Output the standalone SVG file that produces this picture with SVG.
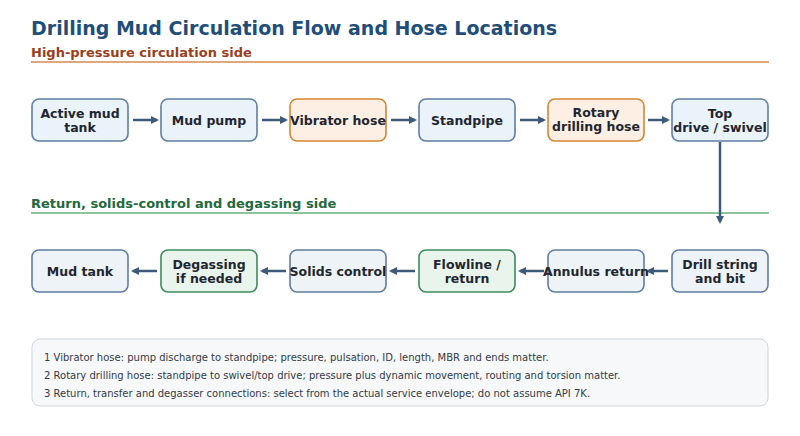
<svg xmlns="http://www.w3.org/2000/svg" width="800" height="436" viewBox="0 0 800 436">
<style>
text{font-family:"DejaVu Sans",sans-serif}
.n{stroke-width:1.6}
.b{fill:#eaf2fa;stroke:#5f7ea0}
.o{fill:#fdefe4;stroke:#d4862e}
.g{fill:#e8f4ec;stroke:#3e8a5c}
.bl{fill:#edf3f6;stroke:#5f7ea0}
.t{font-size:12.5px;font-weight:bold;fill:#1f2630;text-anchor:middle}
.c{stroke:#3d5a78;stroke-width:2.5;fill:none;marker-end:url(#a)}
.note{font-size:10px;fill:#333b45}
</style>
<defs><marker id="a" markerWidth="8" markerHeight="8" refX="6" refY="4" orient="auto" markerUnits="userSpaceOnUse"><path d="M0,0 L8,4 L0,8z" fill="#3d5a78"/></marker></defs>
<rect width="800" height="436" fill="#fff"/>
<text x="31" y="35" font-size="19" font-weight="bold" fill="#1f4e79">Drilling Mud Circulation Flow and Hose Locations</text>
<text x="31" y="57" font-size="13" font-weight="bold" fill="#9a3e1c">High-pressure circulation side</text>
<line x1="31" y1="62" x2="769" y2="62" stroke="#e0a878" stroke-width="2"/>
<text x="31" y="208" font-size="13" font-weight="bold" fill="#23683c">Return, solids-control and degassing side</text>
<line x1="31" y1="213" x2="769" y2="213" stroke="#8cc49c" stroke-width="2"/>
<g id="connectors">
<path class="c" d="M133,120H157"/><path class="c" d="M262,120H286"/><path class="c" d="M391,120H415"/><path class="c" d="M520,120H544"/><path class="c" d="M648,120H668"/>
<path class="c" d="M720,142V222"/>
<path class="c" d="M668,271H648"/><path class="c" d="M544,271H520"/><path class="c" d="M415,271H391"/><path class="c" d="M286,271H262"/><path class="c" d="M157,271H133"/>
</g>
<g id="n1"><rect class="n b" x="32" y="99" width="96" height="42" rx="7"/><text class="t" x="80" y="118">Active mud</text><text class="t" x="80" y="132">tank</text></g>
<g id="n2"><rect class="n b" x="161" y="99" width="96" height="42" rx="7"/><text class="t" x="209" y="125">Mud pump</text></g>
<g id="n3"><rect class="n o" x="290" y="99" width="96" height="42" rx="7"/><text class="t" x="338" y="125">Vibrator hose</text></g>
<g id="n4"><rect class="n b" x="419" y="99" width="96" height="42" rx="7"/><text class="t" x="467" y="125">Standpipe</text></g>
<g id="n5"><rect class="n o" x="548" y="99" width="96" height="42" rx="7"/><text class="t" x="596" y="117">Rotary</text><text class="t" x="596" y="131">drilling hose</text></g>
<g id="n6"><rect class="n b" x="672" y="99" width="96" height="42" rx="7"/><text class="t" x="720" y="118">Top</text><text class="t" x="720" y="132">drive / swivel</text></g>
<g id="n7"><rect class="n bl" x="672" y="250" width="96" height="42" rx="7"/><text class="t" x="720" y="269">Drill string</text><text class="t" x="720" y="283">and bit</text></g>
<g id="n8"><rect class="n bl" x="548" y="250" width="96" height="42" rx="7"/><text class="t" x="596" y="276">Annulus return</text></g>
<g id="n9"><rect class="n g" x="419" y="250" width="96" height="42" rx="7"/><text class="t" x="467" y="269">Flowline /</text><text class="t" x="467" y="283">return</text></g>
<g id="n10"><rect class="n bl" x="290" y="250" width="96" height="42" rx="7"/><text class="t" x="338" y="276">Solids control</text></g>
<g id="n11"><rect class="n g" x="161" y="250" width="96" height="42" rx="7"/><text class="t" x="209" y="269">Degassing</text><text class="t" x="209" y="283">if needed</text></g>
<g id="n12"><rect class="n bl" x="32" y="250" width="96" height="42" rx="7"/><text class="t" x="80" y="276">Mud tank</text></g>
<g id="notes"><rect x="32" y="339" width="736" height="67" rx="8" fill="#f6f8fa" stroke="#cdd5dd"/>
<text class="note" x="44" y="361">1  Vibrator hose: pump discharge to standpipe; pressure, pulsation, ID, length, MBR and ends matter.</text>
<text class="note" x="44" y="379">2  Rotary drilling hose: standpipe to swivel/top drive; pressure plus dynamic movement, routing and torsion matter.</text>
<text class="note" x="44" y="397">3  Return, transfer and degasser connections: select from the actual service envelope; do not assume API 7K.</text></g>
</svg>
